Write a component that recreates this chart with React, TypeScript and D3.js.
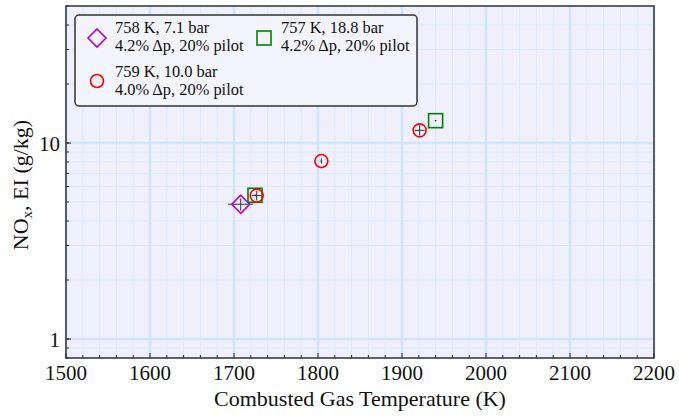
import React from "react";
import * as d3 from "d3";

const W = 679, H = 417;
const M = { left: 66, right: 654, top: 6, bottom: 358 };

const xTicks = [1500, 1600, 1700, 1800, 1900, 2000, 2100, 2200];
const yTickLabels = [1, 10];

// series: 758 K, 7.1 bar (diamond)
const s1T = [1708];
const s1N = [4.87];
const s1Terr = [15];
const s1Nerr = [0.35];
// series: 759 K, 10.0 bar (circle)
const s2T = [1727, 1804, 1921];
const s2N = [5.39, 8.09, 11.6];
const s2Terr = [6, 1, 6];
const s2Nerr = [0.3, 0.25, 0.7];
// series: 757 K, 18.8 bar (square)
const s3T = [1725, 1940];
const s3N = [5.41, 13.0];
const s3Terr = [1, 1];
const s3Nerr = [0.05, 0.1];

const FONT = "'Liberation Serif', 'Times New Roman', serif";

export default function App() {
  const x = d3.scaleLinear().domain([1500, 2200]).range([M.left, M.right]);
  const y = d3.scaleLog().domain([0.8, 50]).range([M.bottom, M.top]);

  const xMinor = d3.range(1500, 2201, 20);
  const yMinor: number[] = [];
  for (const dec of [0.1, 1, 10]) for (let k = 1; k < 10; k++) {
    const v = dec * k;
    if (v >= 0.8 && v <= 50) yMinor.push(v);
  }

  const errBars = (T: number[], N: number[], Te: number[], Ne: number[]) =>
    T.map((t, i) => (
      <g key={i} stroke="#333" strokeWidth={1}>
        <line x1={x(t - Te[i])} x2={x(t + Te[i])} y1={y(N[i])} y2={y(N[i])} />
        <line x1={x(t)} x2={x(t)} y1={y(N[i] - Ne[i])} y2={y(N[i] + Ne[i])} />
      </g>
    ));

  const diamond = (cx: number, cy: number, r: number) =>
    `M${cx},${cy - r}L${cx + r},${cy}L${cx},${cy + r}L${cx - r},${cy}Z`;

  return (
    <svg width={W} height={H} style={{ position: "absolute", left: 0, top: 0, background: "#fff" }} fontFamily={FONT}>
      <rect x={M.left} y={M.top} width={M.right - M.left} height={M.bottom - M.top} fill="#f0f0fc" />
      {/* minor grid */}
      {xMinor.map((v) => (
        <line key={"xm" + v} x1={x(v)} x2={x(v)} y1={M.top} y2={M.bottom} stroke="#dbe8fb" strokeWidth={1} />
      ))}
      {yMinor.map((v) => (
        <line key={"ym" + v} x1={M.left} x2={M.right} y1={y(v)} y2={y(v)} stroke="#dbe8fb" strokeWidth={1} />
      ))}
      {/* major grid */}
      {xTicks.map((v) => (
        <line key={"xM" + v} x1={x(v)} x2={x(v)} y1={M.top} y2={M.bottom} stroke="#d0e4fb" strokeWidth={2.5} />
      ))}
      {yTickLabels.map((v) => (
        <line key={"yM" + v} x1={M.left} x2={M.right} y1={y(v)} y2={y(v)} stroke="#d0e4fb" strokeWidth={2.5} />
      ))}
      {/* ticks */}
      {xMinor.map((v) => (
        <line key={"xt" + v} x1={x(v)} x2={x(v)} y1={M.bottom} y2={M.bottom - (v % 100 === 0 ? 5 : 3)} stroke="#222" strokeWidth={1} />
      ))}
      {yMinor.map((v) => (
        <line key={"yt" + v} x1={M.left} x2={M.left + 3} y1={y(v)} y2={y(v)} stroke="#222" strokeWidth={1} />
      ))}
      {yTickLabels.map((v) => (
        <line key={"ytM" + v} x1={M.left} x2={M.left + 5} y1={y(v)} y2={y(v)} stroke="#222" strokeWidth={1} />
      ))}
      {/* data */}
      {errBars(s1T, s1N, s1Terr, s1Nerr)}
      {s1T.map((t, i) => (
        <path key={"d" + i} d={diamond(x(t), y(s1N[i]), 9)} fill="none" stroke="#c000c0" strokeWidth={1.6} />
      ))}
      {s3T.map((t, i) => (
        <rect key={"s" + i} x={x(t) - 7} y={y(s3N[i]) - 7} width={14} height={14} fill="none" stroke="#008000" strokeWidth={1.6} />
      ))}
      {s2T.map((t, i) => (
        <circle key={"c" + i} cx={x(t)} cy={y(s2N[i])} r={6.5} fill="none" stroke="#ff0000" strokeWidth={1.6} />
      ))}
      {errBars(s3T, s3N, s3Terr, s3Nerr)}
      {errBars(s2T, s2N, s2Terr, s2Nerr)}
      {/* frame */}
      <rect x={M.left} y={M.top} width={M.right - M.left} height={M.bottom - M.top} fill="none" stroke="#333" strokeWidth={1.5} />
      {/* tick labels */}
      {xTicks.map((v) => (
        <text key={"xl" + v} x={x(v)} y={380} textAnchor="middle" fontSize={21} fill="#111">{v}</text>
      ))}
      {yTickLabels.map((v) => (
        <text key={"yl" + v} x={M.left - 6} y={y(v) + 8} textAnchor="end" fontSize={21} fill="#111">{v}</text>
      ))}
      <text x={(M.left + M.right) / 2} y={406} textAnchor="middle" fontSize={22} fill="#111">Combusted Gas Temperature (K)</text>
      <text transform={`translate(28,185) rotate(-90)`} textAnchor="middle" fontSize={22} fill="#111">
        NO<tspan fontSize={15} dy={4}>x</tspan><tspan dy={-4}>, EI (g/kg)</tspan>
      </text>
      {/* legend */}
      <g>
        <rect x={75} y={15} width={342} height={91} rx={4} fill="#f4f4fc" stroke="#333" strokeWidth={1.5} />
        <path d={diamond(97, 38, 9)} fill="none" stroke="#c000c0" strokeWidth={1.6} />
        <text x={115} y={33} fontSize={16.4} fill="#111">758 K, 7.1 bar</text>
        <text x={115} y={51} fontSize={16.4} fill="#111">4.2% Δp, 20% pilot</text>
        <circle cx={97} cy={81} r={6.5} fill="none" stroke="#ff0000" strokeWidth={1.6} />
        <text x={115} y={77} fontSize={16.4} fill="#111">759 K, 10.0 bar</text>
        <text x={115} y={95} fontSize={16.4} fill="#111">4.0% Δp, 20% pilot</text>
        <rect x={257} y={31} width={14} height={14} fill="none" stroke="#008000" strokeWidth={1.6} />
        <text x={281} y={33} fontSize={16.4} fill="#111">757 K, 18.8 bar</text>
        <text x={281} y={51} fontSize={16.4} fill="#111">4.2% Δp, 20% pilot</text>
      </g>
    </svg>
  );
}
